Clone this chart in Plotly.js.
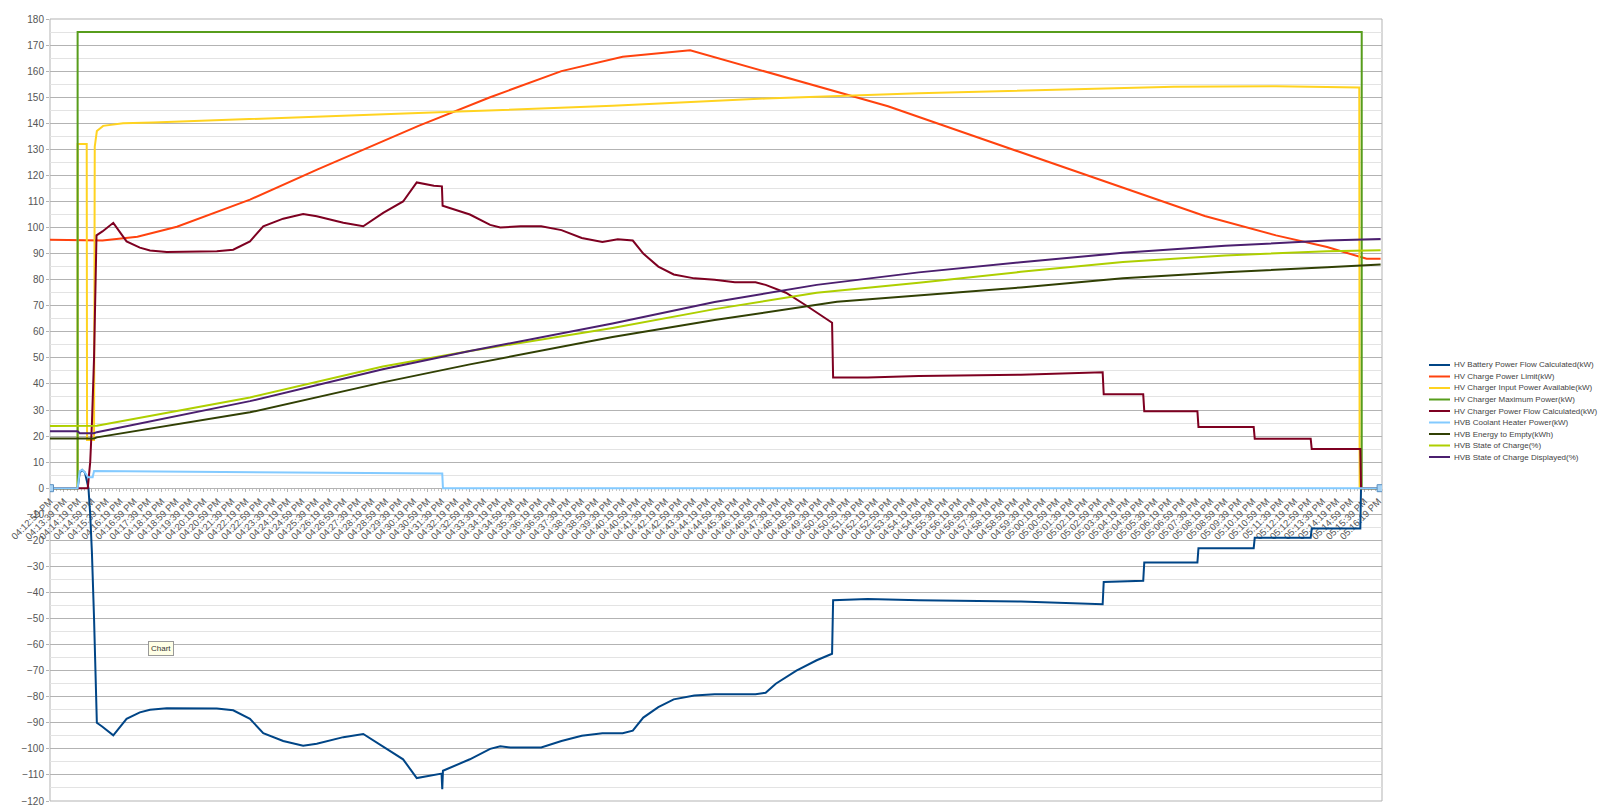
<!DOCTYPE html>
<html>
<head>
<meta charset="utf-8">
<script src="https://cdn.plot.ly/plotly-3.0.1.min.js"></script>
<style>
html,body{margin:0;padding:0;background:#fff;}
#chart{width:1600px;height:812px;}
</style>
</head>
<body>
<div id="chart"></div>
<script>
// ---------- tick labels (every 40 s from 04:12:59 PM) ----------
const timeLabels = [
"04:12:59 PM","04:13:39 PM","04:14:19 PM","04:14:59 PM","04:15:39 PM","04:16:19 PM","04:16:59 PM","04:17:39 PM",
"04:18:19 PM","04:18:59 PM","04:19:39 PM","04:20:19 PM","04:20:59 PM","04:21:39 PM","04:22:19 PM","04:22:59 PM",
"04:23:39 PM","04:24:19 PM","04:24:59 PM","04:25:39 PM","04:26:19 PM","04:26:59 PM","04:27:39 PM","04:28:19 PM",
"04:28:59 PM","04:29:39 PM","04:30:19 PM","04:30:59 PM","04:31:39 PM","04:32:19 PM","04:32:59 PM","04:33:39 PM",
"04:34:19 PM","04:34:59 PM","04:35:39 PM","04:36:19 PM","04:36:59 PM","04:37:39 PM","04:38:19 PM","04:38:59 PM",
"04:39:39 PM","04:40:19 PM","04:40:59 PM","04:41:39 PM","04:42:19 PM","04:42:59 PM","04:43:39 PM","04:44:19 PM",
"04:44:59 PM","04:45:39 PM","04:46:19 PM","04:46:59 PM","04:47:39 PM","04:48:19 PM","04:48:59 PM","04:49:39 PM",
"04:50:19 PM","04:50:59 PM","04:51:39 PM","04:52:19 PM","04:52:59 PM","04:53:39 PM","04:54:19 PM","04:54:59 PM",
"04:55:39 PM","04:56:19 PM","04:56:59 PM","04:57:39 PM","04:58:19 PM","04:58:59 PM","04:59:39 PM","05:00:19 PM",
"05:00:59 PM","05:01:39 PM","05:02:19 PM","05:02:59 PM","05:03:39 PM","05:04:19 PM","05:04:59 PM","05:05:39 PM",
"05:06:19 PM","05:06:59 PM","05:07:39 PM","05:08:19 PM","05:08:59 PM","05:09:39 PM","05:10:19 PM","05:10:59 PM",
"05:11:39 PM","05:12:19 PM","05:12:59 PM","05:13:39 PM","05:14:19 PM","05:14:59 PM","05:15:39 PM","05:16:19 PM"
];
const tickStepSec = 40;
const lastSampleSec = 3806;

// ---------- series (x = seconds after 04:12:59 PM) ----------
const seriesNames = [
"HV Battery Power Flow Calculated(kW)",
"HV Charge Power Limit(kW)",
"HV Charger Input Power Available(kW)",
"HV Charger Maximum Power(kW)",
"HV Charger Power Flow Calculated(kW)",
"HVB Coolant Heater Power(kW)",
"HVB Energy to Empty(kWh)",
"HVB State of Charge(%)",
"HVB State of Charge Displayed(%)"
];

const batterySec = [0,79,85,92,100,106,110,115,120,126,130,134,150,181,219,257,286,334,477,524,572,610,667,724,763,839,896,953,1010,1049,1098,1120,1122,1124,1201,1259,1288,1317,1405,1463,1521,1580,1638,1667,1697,1740,1784,1843,1901,2018,2047,2076,2135,2193,2237,2240,2339,2485,2777,3011,3014,3127,3130,3282,3285,3443,3446,3606,3609,3748,3750,3806];
const batteryKW  = [0,0,6,7,6,3,0,-10,-25,-50,-75,-90,-91.5,-94.8,-88.5,-86,-85,-84.4,-84.5,-85.2,-88.5,-94,-97,-98.8,-98,-95.5,-94.3,-99.3,-104,-111.2,-110,-109.5,-115.5,-108.4,-104,-100,-99,-99.5,-99.5,-97,-95,-94,-94,-93,-88,-84,-81,-79.5,-79,-79,-78.5,-75,-70,-66,-63.5,-43,-42.5,-43,-43.5,-44.5,-36,-35.5,-28.5,-28.5,-23,-23,-19,-19,-15.5,-15.5,0,0];

const limitSec = [0,100,150,250,363,572,764,1054,1259,1463,1638,1831,2397,3303,3507,3653,3766,3806];
const limitKW  = [95.3,95,95,96.5,100.3,110.7,122.2,139,150,160,165.5,168,146.5,104.4,97,92.5,88,88];

const inputSec = [0,79,79,105,106,126,128,134,152,209,295,733,1171,1609,2047,2485,2923,3215,3507,3745,3746,3806];
const inputKW  = [0,0,132,132,18.5,18.5,131,137,139,140,140.3,142.3,144.5,146.7,149.5,151.5,153,154,154.2,153.7,0,0];

const maxSec = [0,79,79,3752,3752,3806];
const maxKW  = [0,0,175,175,0,0];

const flowSec = [0,108,115,120,126,130,133,150,181,219,257,286,334,477,524,572,610,667,724,763,839,896,953,1010,1049,1098,1121,1123,1142,1201,1259,1288,1346,1405,1463,1521,1580,1624,1667,1697,1740,1784,1843,1901,1959,2018,2047,2105,2164,2208,2237,2240,2339,2485,2777,3011,3014,3127,3130,3282,3285,3443,3446,3606,3609,3748,3750,3806];
const flowKW  = [0,0,10,25,50,75,97,98.5,101.8,94.7,92.3,91.2,90.6,90.9,91.5,94.7,100.5,103.4,105.2,104.3,101.8,100.5,105.6,110,117.3,116,115.8,108.4,107.5,105,101,100,100.5,100.5,99,96,94.5,95.5,95,90,85,82,80.5,80,79,79,78,75,70,66,63.5,42.5,42.5,43,43.5,44.5,36,36,29.5,29.5,23.5,23.5,19,19,15,15,0,0];

const heaterSec = [0,79,85,92,100,109,122,126,400,800,1122,1124,3806];
const heaterKW  = [0,0,6.5,7,6,4.2,4.2,6.6,6.3,5.9,5.6,0,0];

const energySec = [0,126,134,572,952,1201,1609,1901,2251,2485,2777,3069,3361,3653,3806];
const energyKWh = [19.1,19.1,19.5,29.1,40.6,47.5,58,64.5,71.5,74,77,80.5,82.8,84.8,85.8];

const socSec = [0,106,126,134,572,952,1201,1609,1901,2193,2485,2777,3069,3361,3653,3806];
const socPct = [23.9,23.9,23.8,24,34.8,46.7,52.6,61.5,68.7,75,78.8,83,86.8,89.3,90.9,91.3];

const socDispSec = [0,79,85,126,134,572,952,1201,1609,1901,2193,2485,2777,3069,3361,3653,3806];
const socDispPct = [21.8,21.8,21.1,21.1,21.5,33.4,45.6,52.6,63.2,71.4,78,82.8,86.7,90.3,93,95,95.6];

// ---------- styles ----------
const seriesColors = ["#004586","#ff420e","#ffd320","#579d1c","#7e0021","#83caff","#314004","#aecf00","#4b1f6f"];
const seriesX = [batterySec,limitSec,inputSec,maxSec,flowSec,heaterSec,energySec,socSec,socDispSec];
const seriesY = [batteryKW,limitKW,inputKW,maxKW,flowKW,heaterKW,energyKWh,socPct,socDispPct];

const traces = seriesNames.map((name,i)=>({
  type:'scatter', mode:'lines', name:name,
  x:seriesX[i], y:seriesY[i],
  line:{color:seriesColors[i], width:2},
  showlegend:false, hoverinfo:'x+y+name'
}));
// selection handles at the ends of the heater series
traces.push({
  type:'scatter', mode:'markers', showlegend:false, hoverinfo:'skip',
  x:[heaterSec[0], heaterSec[heaterSec.length-1]],
  y:[heaterKW[0], heaterKW[heaterKW.length-1]],
  marker:{symbol:'square', size:7, color:'#a9d4f5', line:{color:'#5a8fc0', width:1}}
});

// ---------- manual legend ----------
const L = 50, R = 1382, T = 19, B = 801;
const px2x = p => (p - L) / (R - L);
const py2y = p => (B - p) / (B - T);
const shapes = [{type:'rect', xref:'paper', yref:'paper', x0:0, x1:1, y0:0, y1:1,
  line:{color:'#b3b3b3', width:1}, layer:'below'}];
const annotations = [];
seriesNames.forEach((name,i)=>{
  const yc = 365 + i*11.5;
  shapes.push({type:'line', xref:'paper', yref:'paper', x0:px2x(1429), x1:px2x(1450),
    y0:py2y(yc), y1:py2y(yc), line:{color:seriesColors[i], width:2}});
  annotations.push({xref:'paper', yref:'paper', x:px2x(1452), y:py2y(yc), xanchor:'left', yanchor:'middle',
    text:name, showarrow:false, font:{family:'Liberation Sans, Arial, sans-serif', size:8, color:'#444'}});
});
annotations.push({xref:'x', yref:'y', x:317, y:-61.5, text:'Chart', showarrow:false,
  font:{family:'Liberation Sans, Arial, sans-serif', size:8, color:'#333'},
  bgcolor:'#ffffe6', bordercolor:'#999', borderwidth:1, borderpad:2});

const layout = {
  width:1600, height:812,
  margin:{l:L, r:1600-R, t:T, b:812-B, pad:0},
  paper_bgcolor:'#fff', plot_bgcolor:'#fff',
  font:{family:'Liberation Sans, Arial, sans-serif', color:'#444'},
  showlegend:false,
  xaxis:{
    type:'linear', range:[0, lastSampleSec + 4],
    tickmode:'array', tickvals:timeLabels.map((_,i)=>i*tickStepSec), ticktext:timeLabels,
    tickangle:-45, tickfont:{size:9.5, color:'#555'},
    ticks:'outside', ticklen:3, tickcolor:'#b3b3b3',
    minor:{tickmode:'linear', tick0:0, dtick:10, ticks:'outside', ticklen:2, tickcolor:'#c8c8c8', showgrid:false},
    showgrid:false, zeroline:false, showline:true, linecolor:'#b3b3b3', linewidth:1,
    anchor:'free', position:120/300, layer:'below traces', automargin:false
  },
  yaxis:{
    range:[-120,180], tickmode:'linear', tick0:0, dtick:10,
    tickfont:{size:10, color:'#555'},
    ticks:'outside', ticklen:3, tickcolor:'#b3b3b3',
    showgrid:true, gridcolor:'#b3b3b3', gridwidth:1,
    minor:{tickmode:'linear', dtick:5, showgrid:true, gridcolor:'#e3e3e3', ticks:''},
    zeroline:false, showline:false, automargin:false
  },
  shapes:shapes, annotations:annotations
};

Plotly.newPlot('chart', traces, layout, {displayModeBar:false, staticPlot:true});
</script>
</body>
</html>
